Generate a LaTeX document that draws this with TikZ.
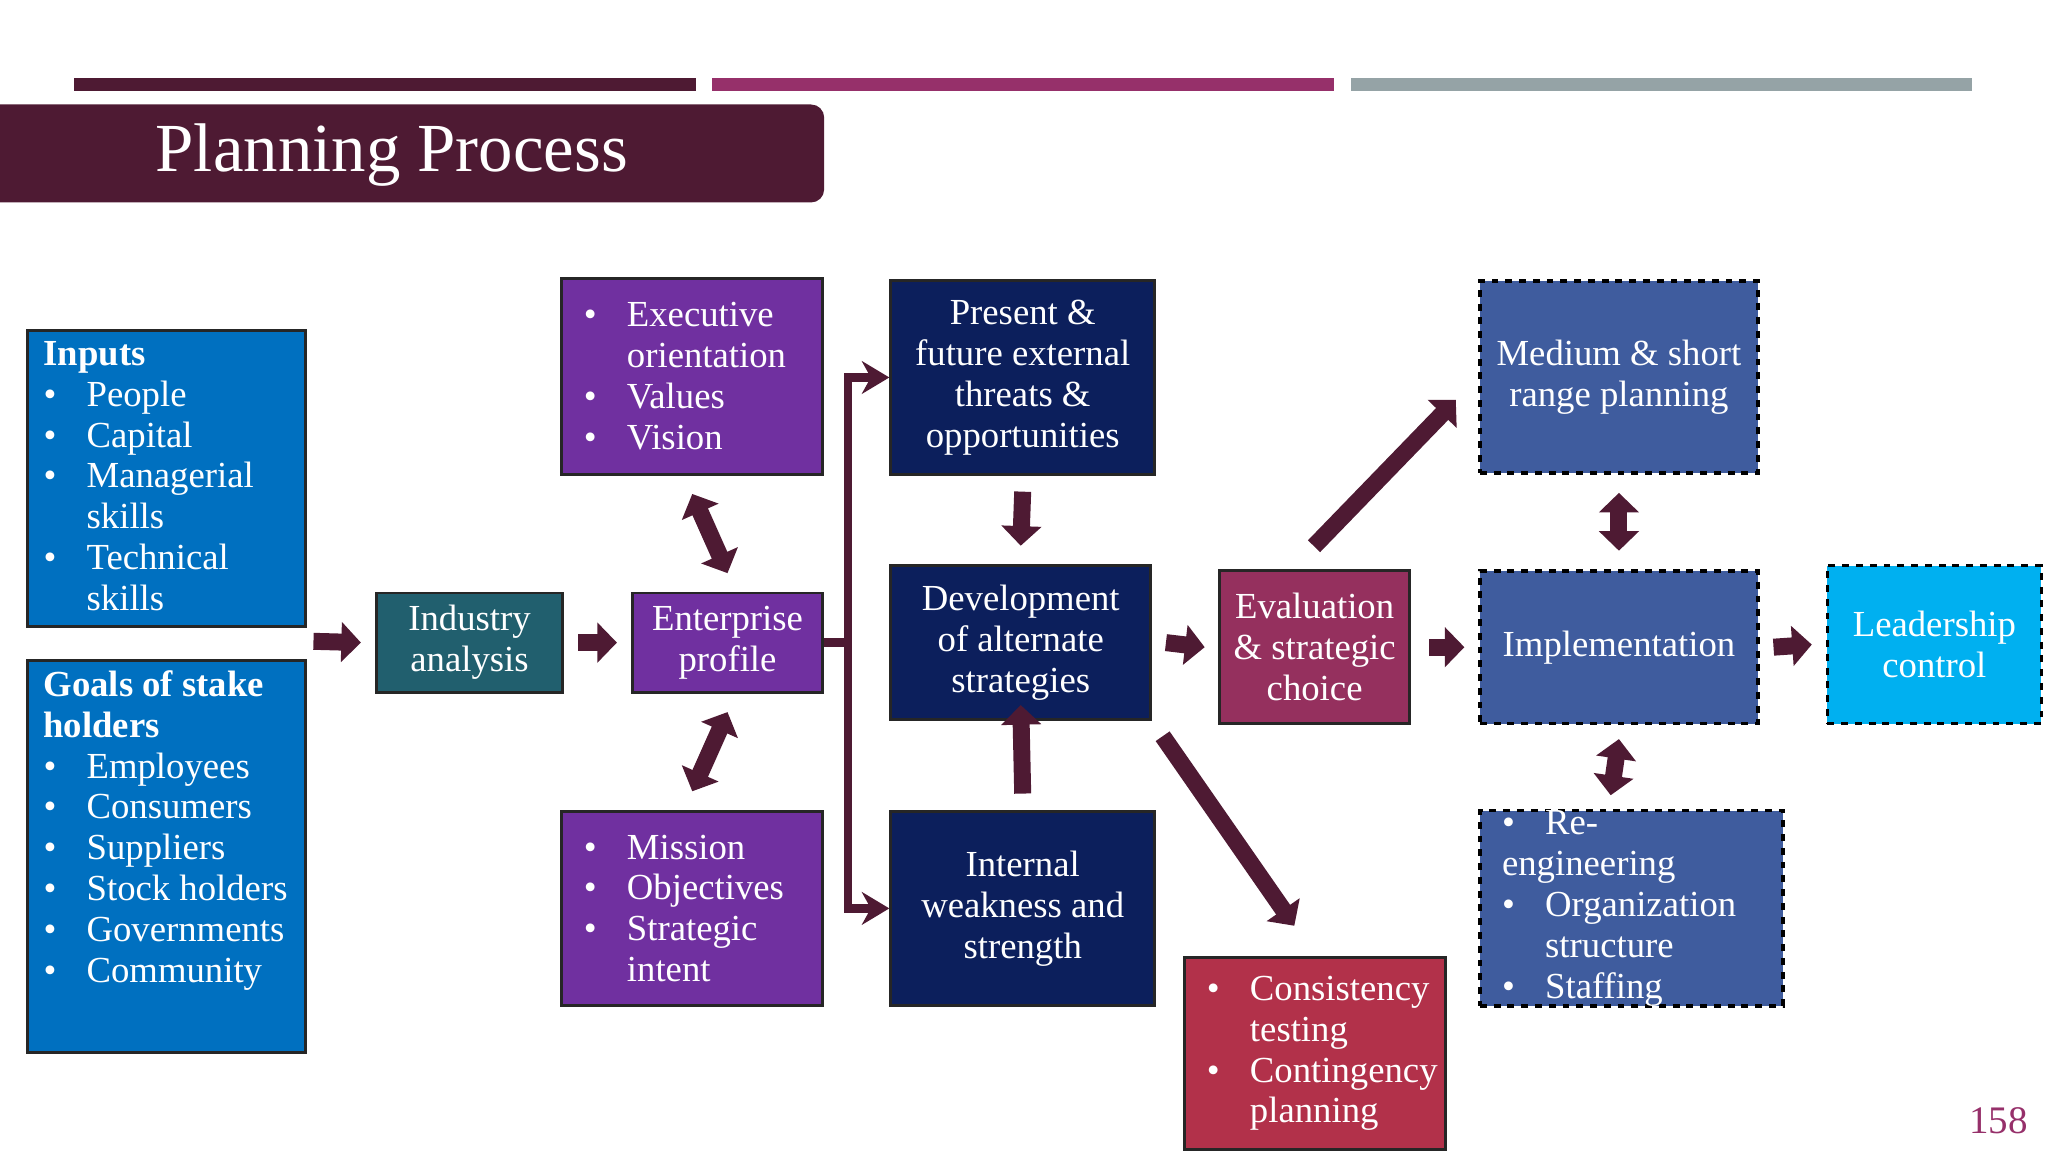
\documentclass[tikz,border=0pt]{standalone}
\usepackage{fontspec}
\setmainfont{Liberation Serif}
\usepackage{xcolor}
\usetikzlibrary{positioning,arrows.meta}
\definecolor{wine}{HTML}{4E1A33}
\definecolor{plum}{HTML}{96306A}
\definecolor{slate}{HTML}{95A3A6}
\definecolor{inblue}{HTML}{0070C0}
\definecolor{sea}{HTML}{215F6E}
\definecolor{violet}{HTML}{7030A0}
\definecolor{navy}{HTML}{0C1F5C}
\definecolor{berry}{HTML}{95305E}
\definecolor{crimson}{HTML}{B2314A}
\definecolor{steel}{HTML}{3F5C9E}
\definecolor{sky}{HTML}{00B0F0}
\newcommand\itm{\makebox[0.66cm][l]{\textbullet}}
\newcommand\ind{\hspace*{0.66cm}}

\begin{document}
\begin{tikzpicture}[x=0.02cm,y=-0.02cm,font=\fontsize{16}{17.8}\selectfont]

    % Define styles
    \tikzstyle{box} = [rectangle, draw=black!85, line width=1.3pt, text=white, inner sep=0pt]
    \tikzstyle{plan} = [box, dashed, line width=1.5pt, draw=black]
    \tikzstyle{block} = [wine, line width=0.26cm, -{Triangle[length=0.3cm,width=0.6cm]}]
    \tikzstyle{twin} = [wine, line width=0.26cm, {Triangle[length=0.3cm,width=0.6cm]}-{Triangle[length=0.3cm,width=0.6cm]}]
    \tikzstyle{link} = [wine, line width=0.13cm]

    \useasboundingbox (0,0) rectangle (1568,882);

    % Header
    \fill[wine] (57,60) rectangle (533,70);
    \fill[plum] (545,60) rectangle (1021,70);
    \fill[slate] (1034,60) rectangle (1510,70);
    \fill[wine, rounded corners=0.2cm] (-20,80) rectangle (631,155);
    \node[text=white, font=\fontsize{30}{34}\selectfont] (title) at (300,119) {Planning Process};

    % Inputs
    \node [box, fill=inblue, minimum width=4.26cm, minimum height=4.54cm] (inputs) at (127.5,366.5) {};
    \node [anchor=north west, align=left, text=white, inner sep=0pt] (inputs_txt) at (33,261)
      {\textbf{Inputs}\\\itm People\\\itm Capital\\\itm Managerial\\\ind skills\\\itm Technical\\\ind skills};
    \node [box, fill=inblue, minimum width=4.26cm, minimum height=6cm] (goals) at (127.5,656) {};
    \node [anchor=north west, align=left, text=white, inner sep=0pt] (goals_txt) at (33,513)
      {\textbf{Goals of stake}\\\textbf{holders}\\\itm Employees\\\itm Consumers\\\itm Suppliers\\\itm Stock holders\\\itm Governments\\\itm Community};
    \coordinate (merge) at (240,491);

    % Analysis
    \node [box, fill=sea, minimum width=2.86cm, minimum height=1.52cm, align=center] (industry) at (359.5,492) {Industry\\analysis};
    \node [box, fill=violet, minimum width=2.92cm, minimum height=1.52cm, align=center] (enterprise) at (557,492) {Enterprise\\profile};
    \node [box, fill=violet, text width=3.32cm, inner xsep=0.34cm, minimum height=3cm, align=left] (exec) at (530,288)
      {\itm Executive\\\ind orientation\\\itm Values\\\itm Vision};
    \node [box, fill=violet, text width=3.32cm, inner xsep=0.34cm, minimum height=2.98cm, align=left] (mission) at (530,695.5)
      {\itm Mission\\\itm Objectives\\\itm Strategic\\\ind intent};

    % Strategy
    \node [box, fill=navy, minimum width=4.04cm, minimum height=2.96cm, align=center] (present) at (783,289)
      {Present \&\\future external\\threats \&\\opportunities};
    \node [box, fill=navy, minimum width=3.98cm, minimum height=2.36cm, align=center] (devel) at (781.5,492)
      {Development\\of alternate\\strategies};
    \node [box, fill=navy, minimum width=4.04cm, minimum height=2.98cm, align=center] (internal) at (783,695.5)
      {Internal\\weakness and\\strength};
    \node [box, fill=berry, minimum width=2.9cm, minimum height=2.34cm, align=center] (eval) at (1006.5,495.5)
      {Evaluation\\\& strategic\\choice};
    \node [box, fill=crimson, text width=3.32cm, inner xsep=0.34cm, minimum height=2.94cm, align=left] (consist) at (1007,806.5)
      {\itm Consistency\\\ind testing\\\itm Contingency\\\ind planning};

    % Execution
    \node [plan, fill=steel, minimum width=4.26cm, minimum height=2.94cm, align=center] (medium) at (1239.5,288.5)
      {Medium \& short\\range planning};
    \node [plan, fill=steel, minimum width=4.26cm, minimum height=2.34cm] (impl) at (1239.5,495.5) {Implementation};
    \node [plan, fill=steel, text width=3.96cm, inner xsep=0.34cm, minimum height=2.98cm, align=left] (reeng) at (1249,695.5)
      {\itm Re-engineering\\\itm Organization\\\ind structure\\\itm Staffing};
    \node [plan, fill=sky, minimum width=3.28cm, minimum height=2.42cm, align=center] (leader) at (1481,493.5)
      {Leadership\\control};

    \node [text=plum, font=\fontsize{17}{20}\selectfont] (page) at (1530,858) {158};

    % Flows
    \draw [block] (merge) -- ([xshift=-6]industry.west);
    \draw [block] ([xshift=6]industry.east) -- ([xshift=-6]enterprise.west);
    \draw [twin] ([yshift=-8]exec.south) -- ([yshift=8]enterprise.north);
    \draw [twin] ([yshift=-8]enterprise.south) -- ([yshift=8]mission.north);
    \draw [link] (enterprise.east) -- ++(18,0) coordinate (fork);
    \draw [link, -{Stealth[length=0.42cm,width=0.5cm]}] (fork) |- (present.west);
    \draw [link, -{Stealth[length=0.42cm,width=0.5cm]}] (fork) |- (internal.west);
    \draw [block] ([yshift=-7]present.south) -- ([yshift=8]devel.north);
    \draw [block] ([yshift=7]internal.north) -- ([yshift=7]devel.south);
    \draw [block] ([xshift=6]devel.east) -- ([xshift=-6]eval.west);
    \draw [block] ([xshift=8]eval.east) -- ([xshift=-6]impl.west);
    \draw [block] ([xshift=6]impl.east) -- ([xshift=-6]leader.west);
    \draw [twin] ([yshift=-8]medium.south) -- ([yshift=8]impl.north);
    \draw [twin] ([yshift=-6]impl.south) -- ([xshift=-9,yshift=6]reeng.north);
    \draw [block, shorten <=14, shorten >=14] ([xshift=-10]eval.north) -- (medium.west);
    \draw [block, shorten <=8, shorten >=16] (devel.south east) -- (consist.north);

\end{tikzpicture}
\end{document}
